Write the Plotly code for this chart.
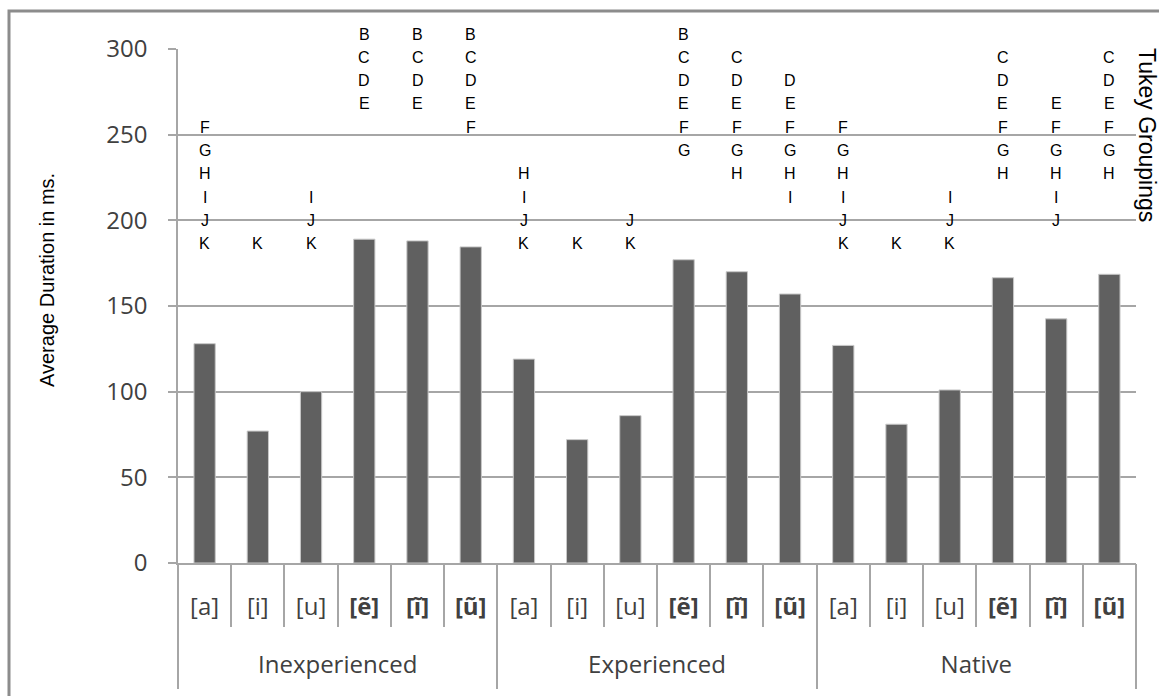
import plotly.graph_objects as go

# Speaker groups and vowel categories
groups = ["Inexperienced", "Experienced", "Native"]
vowels = ["[a]", "[i]", "[u]", "<b>[ẽ]</b>", "<b>[ĩ]</b>", "<b>[ũ]</b>"]

# Average vowel duration (ms) per group, in vowel order
dur_inexperienced = [128, 77, 100, 189, 188, 184.5]
dur_experienced = [119, 72, 86, 177, 170, 157]
dur_native = [127, 81, 101, 166.5, 142.5, 168.5]

# Tukey grouping letters for each bar, in vowel order
tukey_inexperienced = ["FGHIJK", "K", "IJK", "BCDE", "BCDE", "BCDEF"]
tukey_experienced = ["HIJK", "K", "JK", "BCDEFG", "CDEFGH", "DEFGHI"]
tukey_native = ["FGHIJK", "K", "IJK", "CDEFGH", "EFGHIJ", "CDEFGH"]

# Letter rows used for the Tukey groupings (top to bottom)
letter_rows = "BCDEFGHIJK"

durations = [dur_inexperienced, dur_experienced, dur_native]
tukeys = [tukey_inexperienced, tukey_experienced, tukey_native]

# Flatten into one bar per (group, vowel), positioned by index on the x axis
bar_y, bar_label, bar_codes = [], [], []
for vals, codes in zip(durations, tukeys):
    for v, d, c in zip(vowels, vals, codes):
        bar_y.append(d)
        bar_label.append(v)
        bar_codes.append(c)
n_bars = len(bar_y)
bar_x = list(range(n_bars))
per_group = len(vowels)
group_centers = [k * per_group + (per_group - 1) / 2 for k in range(len(groups))]
group_edges = [k * per_group - 0.5 for k in range(len(groups) + 1)]
vowel_edges = [i - 0.5 for i in range(n_bars + 1)]

AXIS_GRAY = "#a6a6a6"
TICK_FONT = dict(family="Open Sans", size=24, color="#404040")
LETTER_FONT = dict(family="Liberation Sans, Arial", size=16, color="#000000")

L, R, T, B = 178, 23, 49, 133
W, H = 1159, 696
pw, ph = W - L - R, H - T - B

def px_x(px):
    return (px - L) / pw

def px_y(py):
    return (H - B - py) / ph

# Each Tukey letter sits on its own fixed row above the bars
ROW_TOP_PX = 34.0
ROW_STEP_PX = 23.3
letter_annotations = []
for i, code in zip(bar_x, bar_codes):
    for ch in code:
        letter_annotations.append(dict(
            text=ch, xref="x", yref="paper",
            x=i, y=px_y(ROW_TOP_PX + letter_rows.index(ch) * ROW_STEP_PX),
            showarrow=False, xanchor="center", yanchor="middle",
            font=LETTER_FONT,
        ))

fig = go.Figure()
fig.add_trace(go.Bar(
    x=bar_x, y=bar_y,
    marker=dict(color="#606060", line=dict(color="#c8c8c8", width=1)),
    showlegend=False, hoverinfo="skip",
))
# carrier for the group-level axis drawn beneath the vowel labels
fig.add_trace(go.Scatter(
    x=group_centers, y=[None] * len(groups), xaxis="x2", mode="markers",
    showlegend=False, hoverinfo="skip",
))

fig.update_layout(
    width=W, height=H,
    margin=dict(l=L, r=R, t=T, b=B, pad=0),
    paper_bgcolor="white", plot_bgcolor="white",
    bargap=0.6,
    xaxis=dict(
        range=[-0.5, n_bars - 0.5],
        tickmode="array", tickvals=bar_x, ticktext=bar_label,
        ticks="", tickfont=TICK_FONT, ticklabelstandoff=21,
        showline=True, linecolor=AXIS_GRAY, linewidth=1.5,
        minor=dict(tickmode="array", tickvals=vowel_edges, ticks="outside",
                   ticklen=62, tickcolor=AXIS_GRAY, tickwidth=1.5,
                   showgrid=False),
        showgrid=False, zeroline=False,
    ),
    xaxis2=dict(
        overlaying="x", anchor="y", side="bottom",
        range=[-0.5, n_bars - 0.5],
        tickmode="array", tickvals=group_centers, ticktext=groups,
        ticks="", tickfont=TICK_FONT, ticklabelstandoff=85,
        showline=False,
        minor=dict(tickmode="array", tickvals=group_edges, ticks="outside",
                   ticklen=125, tickcolor=AXIS_GRAY, tickwidth=1.5,
                   showgrid=False),
        showgrid=False, zeroline=False,
    ),
    yaxis=dict(
        range=[0, 300], dtick=50,
        showgrid=True, gridcolor=AXIS_GRAY, gridwidth=1.5,
        showline=True, linecolor=AXIS_GRAY, linewidth=1.5,
        ticks="outside", ticklen=8, tickcolor=AXIS_GRAY, tickwidth=1.5,
        tickfont=TICK_FONT, ticklabelstandoff=16,
        zeroline=False,
    ),
    shapes=[dict(
        type="rect", xref="paper", yref="paper",
        x0=px_x(9), x1=px_x(1200), y0=px_y(740), y1=px_y(11),
        line=dict(color="#8c8c8c", width=3), fillcolor="rgba(0,0,0,0)",
        layer="above",
    )],
    annotations=letter_annotations + [
        dict(text="Average Duration in ms.", textangle=-90,
             xref="paper", yref="paper", x=px_x(47), y=px_y(280),
             showarrow=False, xanchor="center", yanchor="middle",
             font=dict(family="Liberation Sans, Arial", size=20, color="#000000")),
        dict(text="Tukey Groupings", textangle=90,
             xref="paper", yref="paper", x=px_x(1147), y=px_y(135),
             showarrow=False, xanchor="center", yanchor="middle",
             font=dict(family="Liberation Sans, Arial", size=23, color="#000000")),
    ],
)

fig.write_html("out.html")
